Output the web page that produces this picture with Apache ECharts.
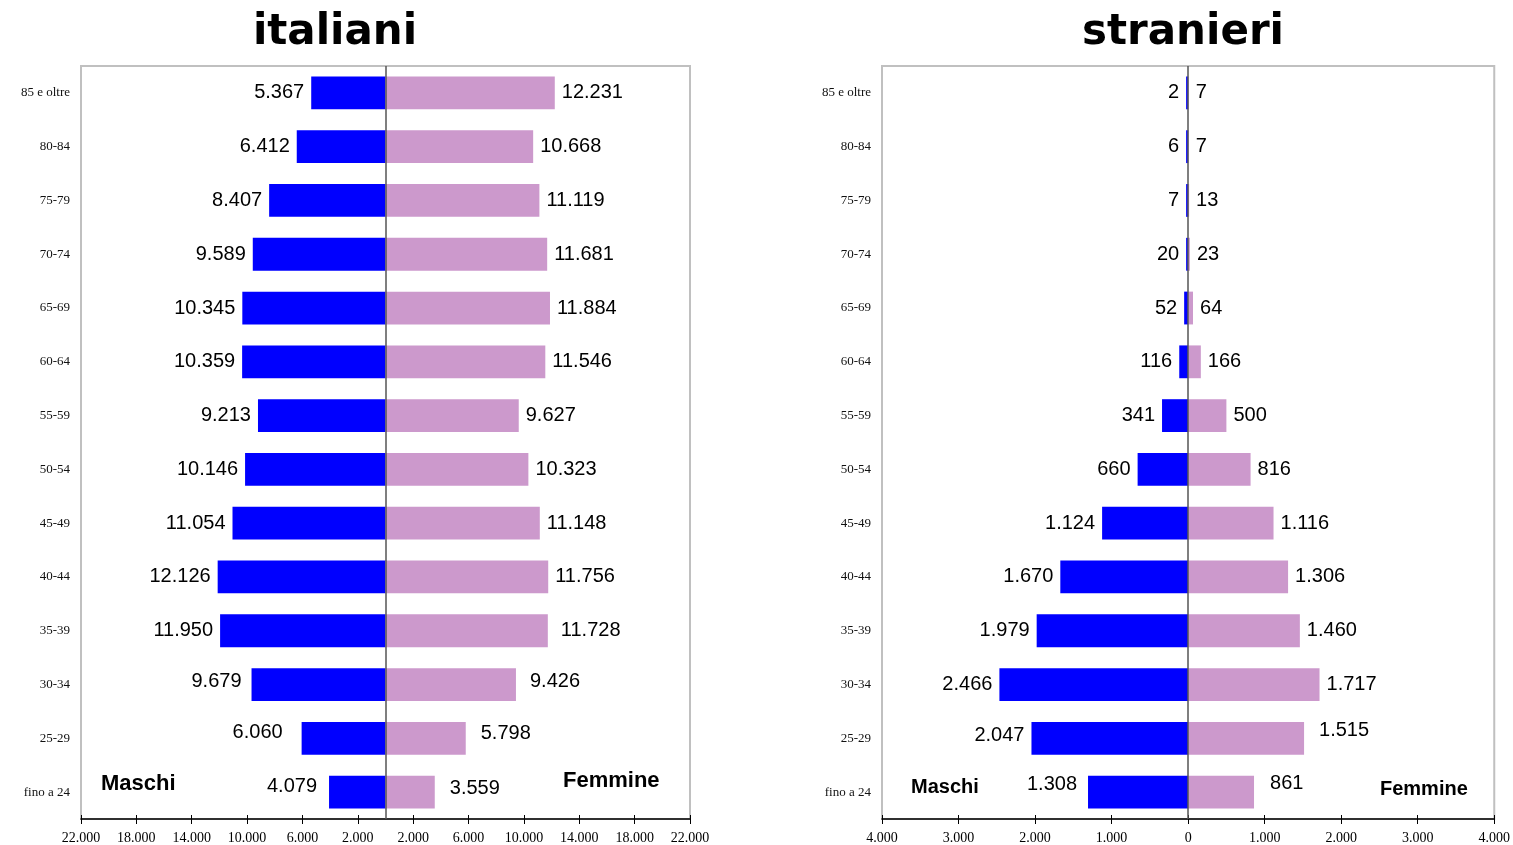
<!DOCTYPE html>
<html>
<head>
<meta charset="utf-8">
<script src="https://cdn.jsdelivr.net/npm/echarts@6/dist/echarts.min.js"></script>
<style>
html,body{margin:0;padding:0;background:#fff;}
#chart{width:1513px;height:845px;}
</style>
</head>
<body>
<div id="chart"></div>
<script>
// ---- data ----
const categories = ['85 e oltre','80-84','75-79','70-74','65-69','60-64','55-59','50-54','45-49','40-44','35-39','30-34','25-29','fino a 24'];
const italianiMaschi  = [5367, 6412, 8407, 9589, 10345, 10359, 9213, 10146, 11054, 12126, 11950, 9679, 6060, 4079];
const italianiFemmine = [12231, 10668, 11119, 11681, 11884, 11546, 9627, 10323, 11148, 11756, 11728, 9426, 5798, 3559];
const stranieriMaschi  = [2, 6, 7, 20, 52, 116, 341, 660, 1124, 1670, 1979, 2466, 2047, 1308];
const stranieriFemmine = [7, 7, 13, 23, 64, 166, 500, 816, 1116, 1306, 1460, 1717, 1515, 861];
const italianiTicks  = [-22000,-18000,-14000,-10000,-6000,-2000,2000,6000,10000,14000,18000,22000];
const stranieriTicks = [-4000,-3000,-2000,-1000,0,1000,2000,3000,4000];
const titles = ['italiani','stranieri'];
const sexLabels = ['Maschi','Femmine'];

// ---- styling: small label nudges (pixels) as in the original layout ----
const nudgeItM = {11:[-3,-3], 12:[-12,-6], 13:[-5,-6]};
const nudgeItF = {10:[6,0], 11:[7,-3], 12:[8,-5], 13:[8,-4]};
const nudgeStM = {12:[0,-3], 13:[-4,-8]};
const nudgeStF = {12:[8,-8], 13:[9,-9]};

// ---- helpers ----
function fmt(n){ return String(Math.abs(n)).replace(/\B(?=(\d{3})+(?!\d))/g,'.'); }
const BLUE = '#0000ff', PINK = '#cc99cc';
const serif = 'Liberation Serif';
const sans = 'Liberation Sans';

function grid(left, right){
  return {left:left, right:right, top:66, bottom:25, show:true, borderColor:'#c0c0c0', borderWidth:2, containLabel:false};
}
function xAxes(gi, lim, ticks){
  return [{
    type:'value', gridIndex:gi, min:-lim, max:lim,
    axisLine:{show:true, onZero:false, lineStyle:{color:'#000', width:1.5}},
    axisTick:{show:true, length:5, lineStyle:{color:'#000'}, customValues:ticks},
    axisLabel:{show:true, customValues:ticks, formatter:v=>fmt(v), fontFamily:serif, fontSize:14, color:'#000', margin:12},
    splitLine:{show:false}
  },{
    type:'value', gridIndex:gi, min:-lim, max:lim, position:'bottom',
    axisLine:{show:false},
    axisTick:{show:true, inside:true, length:4, lineStyle:{color:'#000'}, customValues:ticks},
    axisLabel:{show:false},
    splitLine:{show:false}
  }];
}
function yAxis(gi, margin){
  return {
    type:'category', gridIndex:gi, data:categories, inverse:true,
    axisLine:{show:false}, axisTick:{show:false}, splitLine:{show:false},
    axisLabel:{fontFamily:serif, fontSize:13, color:'#111', margin:margin}
  };
}
function series(xi, yi, values, sign, color, pos, nudge, center, minLen){
  const data = values.map((v,i)=> nudge[i] ? {value:sign*v, label:{offset:nudge[i]}} : sign*v);
  const s = {
    type:'bar', xAxisIndex:xi, yAxisIndex:yi, data:data, barWidth:'61%', barGap:'-100%',
    barMinHeight:minLen,
    itemStyle:{color:color},
    label:{show:true, position:pos, distance:7, formatter:p=>fmt(p.value), fontFamily:sans, fontSize:20, color:'#000'},
    z:2
  };
  if(center){
    s.markLine = {silent:true, symbol:'none', label:{show:false},
      lineStyle:{color:'#555', width:1.5, type:'solid'}, data:[{xAxis:0}], z:5};
  }
  return s;
}

const chart = echarts.init(document.getElementById('chart'));
chart.setOption({
  animation:false,
  backgroundColor:'#fff',
  grid:[grid(81, 1513-690), grid(882, 1513-1495)],
  xAxis:[...xAxes(0, 22000, italianiTicks), ...xAxes(1, 4000, stranieriTicks)],
  yAxis:[yAxis(0, 11), yAxis(1, 11)],
  series:[
    series(0, 0, italianiMaschi, -1, BLUE, 'left', nudgeItM, false, 0),
    series(0, 0, italianiFemmine, 1, PINK, 'right', nudgeItF, true, 0),
    series(2, 1, stranieriMaschi, -1, BLUE, 'left', nudgeStM, false, 2),
    series(2, 1, stranieriFemmine, 1, PINK, 'right', nudgeStF, true, 0)
  ],
  graphic:[
    {type:'text', x:335, y:33, style:{text:titles[0], textAlign:'center', textVerticalAlign:'middle', font:'bold 42px "DejaVu Sans"', fill:'#000'}},
    {type:'text', x:1183, y:33, style:{text:titles[1], textAlign:'center', textVerticalAlign:'middle', font:'bold 42px "DejaVu Sans"', fill:'#000'}},
    {type:'text', x:101, y:784, style:{text:sexLabels[0], textAlign:'left', textVerticalAlign:'middle', font:'bold 22px "Liberation Sans"', fill:'#000'}},
    {type:'text', x:563, y:781, style:{text:sexLabels[1], textAlign:'left', textVerticalAlign:'middle', font:'bold 22px "Liberation Sans"', fill:'#000'}},
    {type:'text', x:911, y:787, style:{text:sexLabels[0], textAlign:'left', textVerticalAlign:'middle', font:'bold 20px "Liberation Sans"', fill:'#000'}},
    {type:'text', x:1380, y:789, style:{text:sexLabels[1], textAlign:'left', textVerticalAlign:'middle', font:'bold 20px "Liberation Sans"', fill:'#000'}}
  ]
});
</script>
</body>
</html>
